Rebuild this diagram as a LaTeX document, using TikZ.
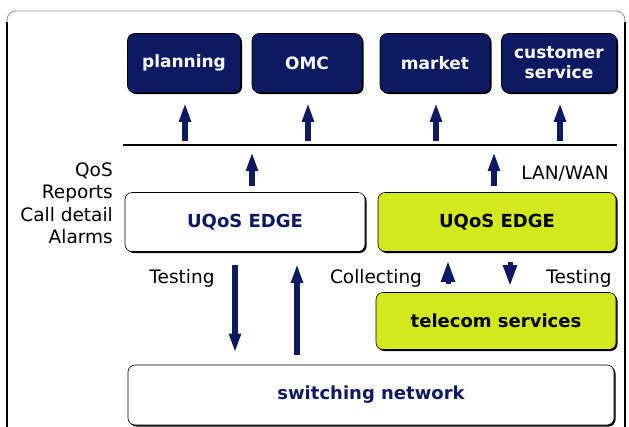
\documentclass[tikz,border=0pt]{standalone}
\usepackage{fontspec}
\setmainfont{DejaVu Sans}
\usepackage{xcolor}
\usepackage{tikz}
\usetikzlibrary{arrows.meta,shadows}

\definecolor{navy}{RGB}{13,26,98}
\definecolor{lime}{RGB}{212,232,30}

\tikzset{
  box/.style={rounded corners=7pt, minimum height=59pt, inner sep=2pt, align=center,
    draw=black, line width=0.6pt, font=\fontsize{18}{20}\selectfont\bfseries,
    drop shadow={shadow xshift=1.5pt, shadow yshift=-1.5pt, opacity=1, fill=black}},
  darkbox/.style={box, fill=navy, text=white, font=\fontsize{17}{20}\selectfont\bfseries},
  limebox/.style={box, fill=lime, text=black},
  whitebox/.style={box, fill=white, text=navy},
  flow/.style={navy, line width=5.5pt, -{Triangle[length=19pt, width=11pt]}},
  stub/.style={navy, line width=5pt, -{Triangle[length=21pt, width=13pt]}},
  lbl/.style={inner sep=0pt, font=\fontsize{18.5}{22.5}\selectfont}
}

\begin{document}
\begin{tikzpicture}[x=1pt, y=-1pt]
  \useasboundingbox (0,0) rectangle (629,426);
  % frame
  \draw[black!45, line width=0.8pt, rounded corners=9pt] (7,40) -- (7,11) -- (625,11) -- (625,40);
  \draw[black, line width=1.2pt] (7,22) -- (7,430);
  \draw[black, line width=1.2pt] (625,22) -- (625,430);

  % top row
  \node[darkbox, minimum width=113pt] (planning) at (184,63) {planning};
  \node[darkbox, minimum width=110pt] (omc) at (307,63) {OMC};
  \node[darkbox, minimum width=110pt] (market) at (435,63) {market};
  \node[darkbox, minimum width=115pt] (custserv) at (559,63) {customer\\service};

  % bus
  \coordinate (busL) at (123,145);
  \coordinate (busR) at (617,145);
  \draw[line width=1.5pt] (busL) -- (busR);

  % edges
  \node[whitebox, minimum width=240pt] (edgeL) at (245,222) {UQoS EDGE};
  \node[limebox, minimum width=238pt] (edgeR) at (497,222) {UQoS EDGE};
  \node[limebox, minimum width=240pt, minimum height=57pt] (telecom) at (496,321) {telecom services};
  \node[whitebox, minimum width=486pt, minimum height=60pt] (switching) at (371,395) {switching network};

  % up to applications
  \foreach \n in {planning,omc,market,custserv}
    \draw[flow, shorten <=4pt, shorten >=10pt] ([xshift=1pt]\n.south |- busL) -- ([xshift=1pt]\n.south);
  \draw[flow, shorten <=6pt, shorten >=7pt] ([xshift=7pt]edgeL.north) -- ([xshift=7pt]edgeL.north |- busL);
  \draw[flow, shorten <=6pt, shorten >=7pt] ([xshift=-3pt]edgeR.north) -- ([xshift=-3pt]edgeR.north |- busL);

  % testing / collecting
  \draw[flow] ([xshift=-10pt, yshift=-13pt]edgeL.south) -- ([xshift=-10pt, yshift=12pt]edgeL.south |- switching.north);
  \draw[flow] ([xshift=52pt, yshift=10pt]edgeL.south |- switching.north) -- ([xshift=52pt, yshift=-12pt]edgeL.south);
  \draw[stub, shorten <=8pt, shorten >=9pt] ([xshift=-49pt]edgeR.south |- telecom.north) -- ([xshift=-49pt]edgeR.south);
  \draw[stub, shorten <=10pt, shorten >=6pt] ([xshift=13pt]edgeR.south) -- ([xshift=13pt]edgeR.south |- telecom.north);

  % labels
  \node[lbl, anchor=east, align=right] (reports) at (113,203.5) {QoS\\Reports\\Call detail\\Alarms};
  \node[lbl] (lanwan) at (565,174) {LAN/WAN};
  \node[lbl] (testL) at (182,278) {Testing};
  \node[lbl] (collect) at (376,278) {Collecting};
  \node[lbl] (testR) at (579,278) {Testing};
\end{tikzpicture}
\end{document}
